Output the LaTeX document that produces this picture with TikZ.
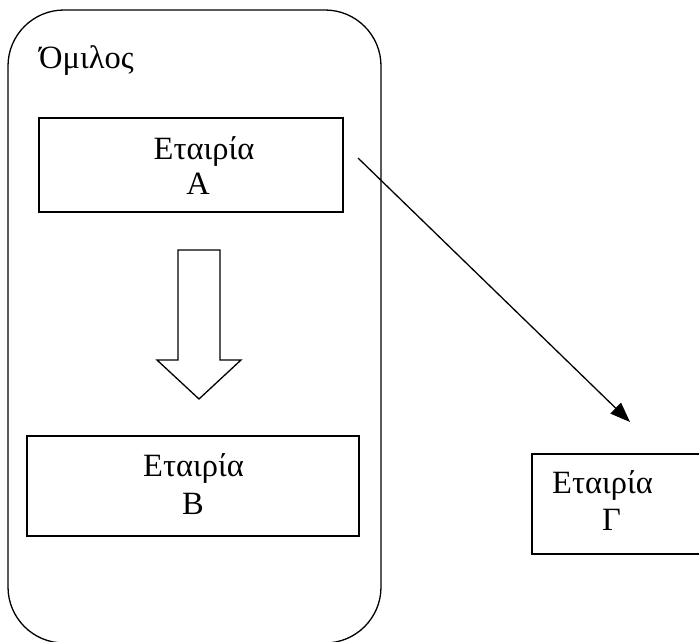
\documentclass[tikz,border=0pt]{standalone}
\usepackage{fontspec}
\setmainfont{Liberation Serif}
\usetikzlibrary{arrows.meta}
\begin{document}
\begin{tikzpicture}[x=1pt,y=-1pt,
  lw/.style={line width=1.3pt},
  boxst/.style={draw,lw,rectangle,inner sep=0pt},
  txt/.style={inner sep=0pt,font=\fontsize{32.5}{39}\selectfont,anchor=base}]
\useasboundingbox (0,0) rectangle (699,641);
\clip (0,0) rectangle (699,641);
% group
\draw[lw,rounded corners=56pt] (8,10) rectangle (381,643);
\node[txt,anchor=base west] (omilos) at (39,68) {Όμιλος};
% box A
\node[boxst,minimum width=304pt,minimum height=94pt] (boxA) at (191,165) {};
\node[txt] (tA1) at (204,159) {Εταιρία};
\node[txt] (tA2) at (198,194) {A};
% box B
\node[boxst,minimum width=332pt,minimum height=100pt] (boxB) at (193,486) {};
\node[txt] (tB1) at (193.5,476) {Εταιρία};
\node[txt] (tB2) at (193,514) {B};
% box G (cut off on the right)
\node[boxst,minimum width=180pt,minimum height=100pt] (boxG) at (622,504) {};
\node[txt] (tG1) at (602.5,493) {Εταιρία};
\node[txt] (tG2) at (611.5,530) {Γ};
% block arrow
\draw[lw,line join=miter] (178,250) -- (220,250) -- (220,360) -- (241,360) -- (199,399) -- (157,360) -- (178,360) -- cycle;
% connector
\coordinate (s) at (358,158);
\coordinate (e) at (630,422);
\draw[lw,-{Triangle[length=20pt,width=15pt]}] (s) -- (e);
\end{tikzpicture}
\end{document}
